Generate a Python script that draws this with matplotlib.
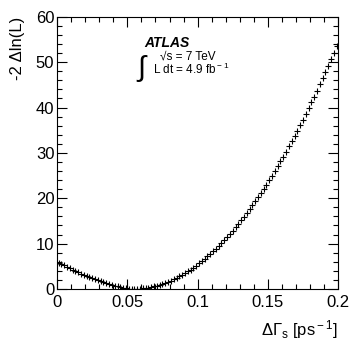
import numpy as np
import matplotlib
matplotlib.use('Agg')
import matplotlib.pyplot as plt
from matplotlib.ticker import MultipleLocator

plt.rcParams['font.family'] = ['Liberation Sans', 'DejaVu Sans']
plt.rcParams['mathtext.fontset'] = 'custom'
plt.rcParams['mathtext.rm'] = 'Liberation Sans'
plt.rcParams['mathtext.it'] = 'Liberation Sans:italic'

# bin centres of the scan (100 bins, 0 - 0.2 ps^-1)
dgamma = np.arange(100) * 0.002 + 0.001

# -2 delta ln(L)
nll_left = [5.83, 5.51, 5.19, 4.87, 4.56, 4.26, 3.97, 3.68, 3.40, 3.13,
            2.87, 2.61, 2.36, 2.12, 1.89, 1.67, 1.46, 1.25, 1.06, 0.88,
            0.71, 0.55, 0.41, 0.28, 0.17, 0.07, 0.02]
nll_right = [0.00, 0.02, 0.06, 0.12, 0.21, 0.31, 0.43, 0.57, 0.74, 0.92,
             1.12, 1.35, 1.59, 1.86, 2.14, 2.45, 2.78, 3.12, 3.49, 3.88,
             4.29, 4.71, 5.16, 5.63, 6.12, 6.63, 7.16, 7.71, 8.28, 8.88,
             9.49, 10.12, 10.77, 11.45, 12.14, 12.85, 13.59, 14.34, 15.12, 15.91,
             16.73, 17.57, 18.42, 19.30, 20.20, 21.12, 22.05, 23.01, 23.99, 24.99,
             26.01, 27.05, 28.11, 29.19, 30.30, 31.42, 32.56, 33.72, 34.91, 36.11,
             37.33, 38.58, 39.84, 41.13, 42.43, 43.76, 45.11, 46.47, 47.86, 49.27,
             50.70, 52.14, 53.61]
nll = np.array(nll_left + nll_right)

fig = plt.figure(figsize=(3.57, 3.44), dpi=100)
ax = fig.add_axes([0.160, 0.160, 0.787, 0.791])

ax.plot(dgamma, nll, linestyle='none', marker='+', markersize=5,
        markeredgewidth=0.8, color='black')

ax.set_xlim(0, 0.2)
ax.set_ylim(0, 60)
ax.xaxis.set_minor_locator(MultipleLocator(0.01))
ax.yaxis.set_major_locator(MultipleLocator(10))
ax.yaxis.set_minor_locator(MultipleLocator(2))
ax.set_xticks([0, 0.05, 0.1, 0.15, 0.2])
ax.set_xticklabels(['0', '0.05', '0.1', '0.15', '0.2'])
ax.tick_params(which='both', direction='in', top=True, right=True,
               labelsize=12, width=0.8)
ax.tick_params(axis='x', pad=4)
ax.tick_params(axis='y', pad=2)
ax.tick_params(which='major', length=7)
ax.tick_params(which='minor', length=3.5)
for s in ax.spines.values():
    s.set_linewidth(0.8)

ax.set_ylabel('-2 \u0394ln(L)', fontsize=12, loc='top', labelpad=8)
ax.set_xlabel(r'$\Delta\Gamma_{\rm s}$ [ps$^{\rm -1}$]', fontsize=12,
              loc='right', labelpad=6)

# ATLAS label
fig.text(0.405, 0.862, 'ATLAS', fontsize=10, fontweight='bold',
         fontstyle='italic')
fig.text(0.385, 0.778, '\u222b', fontsize=21)
fig.text(0.448, 0.826, '\u221As = 7 TeV', fontsize=8.5)
fig.text(0.428, 0.785, r'L dt = 4.9 fb$^{\rm -1}$', fontsize=8.5)

fig.savefig('out.png', dpi=100)
